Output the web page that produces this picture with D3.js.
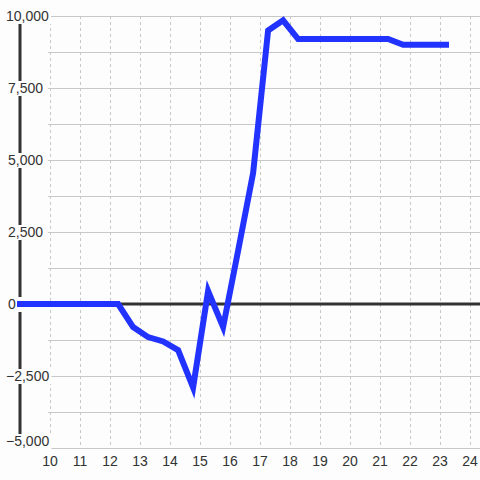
<!DOCTYPE html>
<html><head><meta charset="utf-8">
<script src="https://cdn.jsdelivr.net/npm/d3@7"></script>
<style>
html,body{margin:0;padding:0;background:#fcfdfc;}
svg{display:block;}
text{font-family:"Liberation Sans",Arial,sans-serif;font-size:14px;fill:#333;}
</style></head>
<body>
<script>
const times = [8.9, 12.27, 12.77, 13.27, 13.77, 14.27, 14.77, 15.27, 15.77, 16.27, 16.77, 17.27, 17.77, 18.27, 18.77, 19.27, 19.77, 20.27, 20.77, 21.27, 21.77, 22.27, 22.77, 23.3];
const values = [0, 0, -800, -1150, -1300, -1600, -2900, 450, -800, 1850, 4550, 9500, 9850, 9200, 9200, 9200, 9200, 9200, 9200, 9200, 9000, 9000, 9000, 9000];
const xTicks = [10, 11, 12, 13, 14, 15, 16, 17, 18, 19, 20, 21, 22, 23, 24];
const yLabelTicks = [-5000, -2500, 0, 2500, 5000, 7500, 10000];
const yGridTicks = [-5000, -3750, -2500, -1250, 1250, 2500, 3750, 5000, 6250, 7500, 8750, 10000];

const W = 480, H = 480, BG = "#fcfdfc";
const x = d3.scaleLinear().domain([9, 24.333]).range([20, 480]);
const y = d3.scaleLinear().domain([-5000, 10000]).range([448, 16]);

const svg = d3.select("body").append("svg").attr("width", W).attr("height", H);
svg.append("rect").attr("width", W).attr("height", H).attr("fill", BG);

// horizontal grid
svg.append("g").selectAll("line").data(yGridTicks).join("line")
  .attr("x1", 48).attr("x2", W)
  .attr("y1", d => y(d)).attr("y2", d => y(d))
  .attr("stroke", "#c8c8c8").attr("stroke-width", 1).attr("shape-rendering", "crispEdges");

// vertical dashed grid
svg.append("g").selectAll("line").data(xTicks).join("line")
  .attr("x1", d => x(d)).attr("x2", d => x(d))
  .attr("y1", y(10000)).attr("y2", y(-5000))
  .attr("stroke", "#c8c8c8").attr("stroke-width", 1).attr("stroke-dasharray", "3,3")
  .attr("shape-rendering", "crispEdges");

// zero line
svg.append("line").attr("x1", 20).attr("x2", W).attr("y1", y(0)).attr("y2", y(0))
  .attr("stroke", "#333").attr("stroke-width", 3);

// y axis line
svg.append("line").attr("x1", 20).attr("x2", 20).attr("y1", y(10000)).attr("y2", y(-5000))
  .attr("stroke", "#333").attr("stroke-width", 3);

// y labels with background boxes
const fmt = d3.format(",");
const yl = svg.append("g");
yLabelTicks.forEach(v => {
  const g = yl.append("g");
  const t = g.append("text").text(fmt(v)).attr("dominant-baseline", "central")
    .attr("text-anchor", "end").attr("x", 43).attr("y", y(v));
  let bb = t.node().getBBox();
  if (v === 0) { t.attr("text-anchor", "start").attr("x", 8); }
  else if (bb.x < 6) { t.attr("text-anchor", "start").attr("x", 6); }
  bb = t.node().getBBox();
  const top = bb.y + (bb.height - 12) / 2;
  if (top + 12 > 447) t.attr("y", y(v) - (top + 12 - 447));
  if (top < 10) t.attr("y", y(v) + (10 - top));
  bb = t.node().getBBox();
  const bx = bb.x - 2, bw = Math.max(bb.x + bb.width + 2, 23) - bx;
  g.insert("rect", "text").attr("x", bx).attr("y", bb.y + 1).attr("width", bw).attr("height", bb.height - 1)
    .attr("fill", BG);
});

// data line (on top of label boxes)
const line = d3.line().x((d, i) => x(times[i])).y(d => y(d));
svg.append("path").datum(values).attr("d", line)
  .attr("fill", "none").attr("stroke", "#2233ff").attr("stroke-width", 6)
  .attr("stroke-linejoin", "miter");

// x labels
svg.append("g").selectAll("text").data(xTicks).join("text")
  .attr("x", d => x(d)).attr("y", 461).attr("dominant-baseline", "central")
  .attr("text-anchor", "middle").text(d => d);
</script>
</body></html>
